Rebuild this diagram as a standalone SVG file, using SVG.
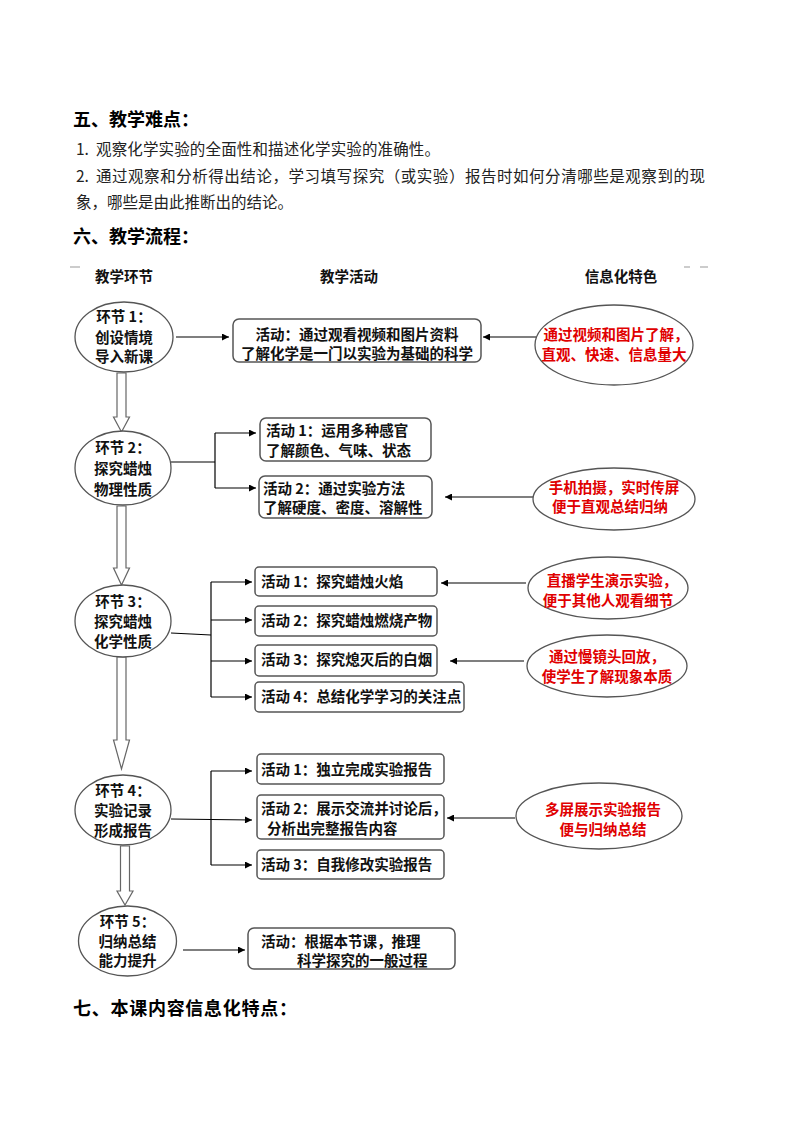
<svg xmlns="http://www.w3.org/2000/svg" width="794" height="1123" viewBox="0 0 794 1123">
<defs>
<marker id="ah" viewBox="0 0 10 10" refX="10" refY="5" markerWidth="8" markerHeight="7" markerUnits="userSpaceOnUse" orient="auto"><path d="M0,0 L10,5 L0,10 z" fill="#000"/></marker>
<style>
text{font-family:"Noto Sans CJK SC","Noto Sans",sans-serif;}
.h{font-size:18px;font-weight:700;fill:#000;}
.b{font-size:15.5px;fill:#222;}
.col{font-size:14.5px;font-weight:700;fill:#111;text-anchor:middle;}
.ct{font-size:14.5px;font-weight:700;fill:#111;text-anchor:middle;}
.at{font-size:14.5px;font-weight:700;fill:#111;}
.rt{font-size:14.5px;font-weight:700;fill:#e00000;text-anchor:middle;}
.node{fill:#fff;stroke:#555;stroke-width:1.3;}
.box{fill:#fff;stroke:#555;stroke-width:1.5;}
.ln{fill:none;stroke:#000;stroke-width:1.2;}
.ar{fill:none;stroke:#000;stroke-width:1.2;marker-end:url(#ah);}
.hol{fill:#fff;stroke:#666;stroke-width:1.2;}
</style>
</defs>
<rect width="794" height="1123" fill="#fff"/>

<text class="h" x="73" y="126">五、教学难点：</text>
<text class="b" y="155"><tspan x="76">1.</tspan><tspan x="96" textLength="344" lengthAdjust="spacing">观察化学实验的全面性和描述化学实验的准确性。</tspan></text>
<text class="b" y="182"><tspan x="76">2.</tspan><tspan x="96" textLength="609" lengthAdjust="spacing">通过观察和分析得出结论，学习填写探究（或实验）报告时如何分清哪些是观察到的现</tspan></text>
<text class="b" x="76" y="208">象，哪些是由此推断出的结论。</text>
<text class="h" x="73" y="243">六、教学流程：</text>

<g id="fragments" stroke="#999" stroke-width="1">
<line x1="70" y1="267" x2="80" y2="267"/>
<line x1="684" y1="267" x2="690" y2="267"/>
<line x1="700" y1="267" x2="708" y2="267"/>
</g>

<g id="headers">
<text class="col" x="124" y="282">教学环节</text>
<text class="col" x="349" y="282">教学活动</text>
<text class="col" x="621" y="282">信息化特色</text>
</g>

<g id="connectors">
<polygon class="hol" points="117,373 126,373 126,417 129.5,417 121.5,432 113.5,417 117,417"/>
<polygon class="hol" points="117,506 126,506 126,568 129.5,568 121.5,585 113.5,568 117,568"/>
<polygon class="hol" points="117,657 126,657 126,740 129.5,740 121.5,769 113.5,740 117,740"/>
<polygon class="hol" points="120.5,846 129.5,846 129.5,891 133,891 125,905 117,891 120.5,891"/>

<line class="ar" x1="176" y1="337" x2="229" y2="337"/>
<line class="ar" x1="536" y1="337" x2="483" y2="337"/>

<polyline class="ln" points="171,462 215,462"/>
<line class="ln" x1="215" y1="433" x2="215" y2="488"/>
<line class="ar" x1="215" y1="433" x2="256" y2="433"/>
<line class="ar" x1="215" y1="488" x2="256" y2="488"/>
<line class="ar" x1="533" y1="497" x2="445" y2="497"/>

<line class="ln" x1="171" y1="633" x2="211" y2="635"/>
<line class="ln" x1="211" y1="582" x2="211" y2="697"/>
<line class="ar" x1="211" y1="582" x2="252" y2="582"/>
<line class="ar" x1="211" y1="620" x2="252" y2="620"/>
<line class="ar" x1="211" y1="661" x2="252" y2="661"/>
<line class="ar" x1="211" y1="697" x2="252" y2="697"/>
<line class="ar" x1="526" y1="583" x2="441" y2="583"/>
<line class="ar" x1="524" y1="661" x2="450" y2="661"/>

<line class="ln" x1="211" y1="771" x2="211" y2="865"/>
<line class="ar" x1="211" y1="771" x2="252" y2="771"/>
<line class="ar" x1="171" y1="819" x2="252" y2="820"/>
<line class="ar" x1="211" y1="865" x2="252" y2="865"/>
<line class="ar" x1="515" y1="818" x2="447" y2="818"/>

<line class="ar" x1="183" y1="950" x2="245" y2="950"/>
</g>

<g id="step1">
<ellipse class="node" cx="124" cy="337" rx="49" ry="35"/>
<text class="ct" x="124" y="322">环节 1：</text>
<text class="ct" x="124" y="343">创设情境</text>
<text class="ct" x="124" y="362">导入新课</text>
</g>
<g id="act1">
<rect class="box" x="233" y="319" width="248" height="43" rx="6"/>
<text class="at" x="357" y="340" text-anchor="middle">活动：通过观看视频和图片资料</text>
<text class="at" x="357" y="359" text-anchor="middle">了解化学是一门以实验为基础的科学</text>
</g>
<g id="info1">
<ellipse class="node" cx="614" cy="345" rx="79" ry="40"/>
<text class="rt" x="616" y="340">通过视频和图片了解，</text>
<text class="rt" x="614" y="360">直观、快速、信息量大</text>
</g>

<g id="step2">
<ellipse class="node" cx="123" cy="468" rx="48" ry="37"/>
<text class="ct" x="123" y="453">环节 2：</text>
<text class="ct" x="123" y="474">探究蜡烛</text>
<text class="ct" x="123" y="495">物理性质</text>
</g>
<g id="act2a">
<rect class="box" x="260" y="418" width="171" height="43" rx="6"/>
<text class="at" x="266" y="436">活动 1：运用多种感官</text>
<text class="at" x="266" y="456">了解颜色、气味、状态</text>
</g>
<g id="act2b">
<rect class="box" x="259" y="476" width="173" height="42" rx="6"/>
<text class="at" x="263" y="494">活动 2：通过实验方法</text>
<text class="at" x="263" y="513">了解硬度、密度、溶解性</text>
</g>
<g id="info2">
<ellipse class="node" cx="614" cy="499" rx="81" ry="31"/>
<text class="rt" x="614" y="493">手机拍摄，实时传屏</text>
<text class="rt" x="610" y="512">便于直观总结归纳</text>
</g>

<g id="step3">
<ellipse class="node" cx="123" cy="621" rx="48" ry="36"/>
<text class="ct" x="123" y="607">环节 3：</text>
<text class="ct" x="123" y="627">探究蜡烛</text>
<text class="ct" x="123" y="647">化学性质</text>
</g>
<g id="act3a">
<rect class="box" x="255" y="567" width="182" height="29" rx="4"/>
<text class="at" x="261" y="587">活动 1：探究蜡烛火焰</text>
</g>
<g id="act3b">
<rect class="box" x="255" y="606" width="182" height="30" rx="4"/>
<text class="at" x="261" y="626">活动 2：探究蜡烛燃烧产物</text>
</g>
<g id="act3c">
<rect class="box" x="255" y="645" width="182" height="31" rx="4"/>
<text class="at" x="261" y="665">活动 3：探究熄灭后的白烟</text>
</g>
<g id="act3d">
<rect class="box" x="255" y="682" width="209" height="30" rx="4"/>
<text class="at" x="261" y="702">活动 4：总结化学学习的关注点</text>
</g>
<g id="info3a">
<ellipse class="node" cx="608" cy="588" rx="80" ry="31"/>
<text class="rt" x="612" y="586">直播学生演示实验，</text>
<text class="rt" x="608" y="606">便于其他人观看细节</text>
</g>
<g id="info3b">
<ellipse class="node" cx="607" cy="666" rx="80" ry="31"/>
<text class="rt" x="607" y="662">通过慢镜头回放，</text>
<text class="rt" x="607" y="682">使学生了解现象本质</text>
</g>

<g id="step4">
<ellipse class="node" cx="123" cy="810" rx="48" ry="35"/>
<text class="ct" x="123" y="796">环节 4：</text>
<text class="ct" x="123" y="816">实验记录</text>
<text class="ct" x="123" y="836">形成报告</text>
</g>
<g id="act4a">
<rect class="box" x="257" y="754" width="187" height="30" rx="4"/>
<text class="at" x="261" y="775">活动 1：独立完成实验报告</text>
</g>
<g id="act4b">
<rect class="box" x="257" y="795" width="187" height="44" rx="4"/>
<text class="at" x="261" y="814">活动 2：展示交流并讨论后，</text>
<text class="at" x="267" y="834">分析出完整报告内容</text>
</g>
<g id="act4c">
<rect class="box" x="257" y="850" width="187" height="29" rx="4"/>
<text class="at" x="261" y="870">活动 3：自我修改实验报告</text>
</g>
<g id="info4">
<ellipse class="node" cx="599" cy="816" rx="83" ry="33"/>
<text class="rt" x="603" y="815">多屏展示实验报告</text>
<text class="rt" x="603" y="835">便与归纳总结</text>
</g>

<g id="step5">
<ellipse class="node" cx="127.5" cy="941" rx="49" ry="35"/>
<text class="ct" x="127.5" y="927">环节 5：</text>
<text class="ct" x="127.5" y="947">归纳总结</text>
<text class="ct" x="127.5" y="966">能力提升</text>
</g>
<g id="act5">
<rect class="box" x="248" y="928" width="207" height="41" rx="6"/>
<text class="at" x="261" y="947">活动：根据本节课，推理</text>
<text class="at" x="297" y="966">科学探究的一般过程</text>
</g>

<text class="h" x="73" y="1015" textLength="224" lengthAdjust="spacing">七、本课内容信息化特点：</text>
</svg>
